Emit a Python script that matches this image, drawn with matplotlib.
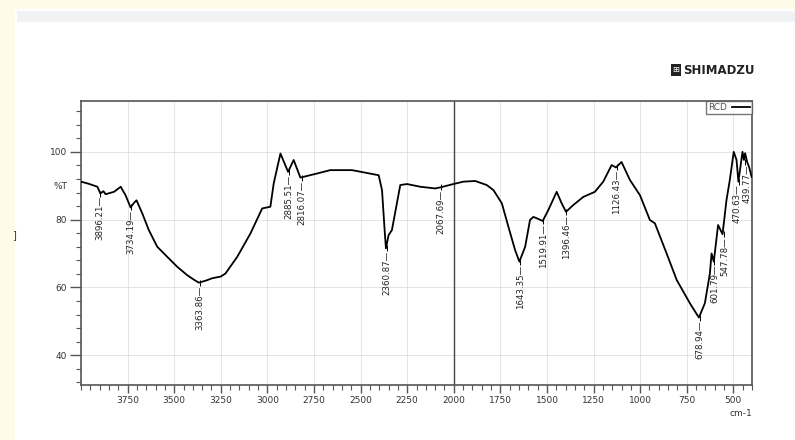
import matplotlib
matplotlib.use("Agg")
import matplotlib.pyplot as plt
from matplotlib.patches import Rectangle
from matplotlib.ticker import MultipleLocator

W, H = 795, 440

# spectrum (wavenumber cm-1, %T)
wavenumber = [4000, 3960, 3912, 3896, 3880, 3868, 3823, 3787, 3761, 3734, 3715, 3702,
              3671, 3636, 3591, 3537, 3484, 3430, 3395, 3368, 3330, 3296, 3250, 3225,
              3162, 3091, 3028, 2984, 2966, 2930, 2889, 2859, 2823, 2734, 2663, 2546,
              2403, 2385, 2371, 2364, 2350, 2332, 2287, 2251, 2180, 2100, 2073, 2002,
              1948, 1885, 1823, 1787, 1742, 1707, 1671, 1648, 1617, 1591, 1573, 1555,
              1523, 1493, 1448, 1421, 1398, 1359, 1305, 1243, 1198, 1153, 1130, 1100,
              1055, 1001, 948, 921, 858, 804, 733, 685, 653, 626, 617, 605,
              582, 558, 537, 519, 498, 483, 473, 451, 443, 437, 426, 416, 402]
transmittance = [91.2, 90.6, 89.7, 87.7, 88.4, 87.5, 88.2, 89.7, 87.2, 83.6, 85.0, 85.7,
                 81.8, 76.9, 72.0, 69.0, 66.1, 63.6, 62.3, 61.4, 62.0, 62.7, 63.2, 64.1,
                 69.0, 75.9, 83.3, 83.8, 90.7, 99.5, 94.1, 97.6, 92.4, 93.6, 94.6, 94.6,
                 93.1, 88.7, 76.9, 71.5, 75.4, 76.9, 90.2, 90.5, 89.7, 89.2, 89.5, 90.5,
                 91.2, 91.4, 90.2, 88.7, 84.8, 77.9, 71.0, 67.6, 72.0, 79.9, 80.8, 80.4,
                 79.6, 82.8, 88.2, 84.8, 82.3, 84.3, 86.7, 88.2, 91.2, 96.1, 95.4, 97.0,
                 91.7, 87.2, 79.9, 78.9, 70.0, 62.2, 55.3, 51.1, 55.3, 64.1, 70.0, 67.6,
                 78.4, 75.7, 85.7, 91.7, 100.0, 97.6, 91.2, 100.0, 97.6, 99.6, 97.0, 95.6, 92.6]

peak_wn = [3896.21, 3734.19, 3363.86, 2885.51, 2816.07, 2360.87, 2067.69, 1643.35,
           1519.91, 1396.46, 1126.43, 678.94, 601.79, 547.78, 470.63, 439.77]
peak_t = [87.7, 83.6, 61.4, 94.1, 92.4, 71.5, 89.5, 67.6,
          79.6, 82.3, 95.4, 51.1, 67.6, 75.7, 91.2, 97.0]

fig = plt.figure(figsize=(W / 100, H / 100), dpi=100, facecolor="#fffbe9")

def fx(px):
    return px / W

def fy(py):
    return 1 - py / H

# page panels behind the chart
fig.add_artist(Rectangle((fx(15), 0), 1 - fx(15), fy(9), transform=fig.transFigure,
                         facecolor="white", edgecolor="none", zorder=0))
fig.add_artist(Rectangle((fx(17), fy(22)), 1 - fx(17), fy(11) - fy(22),
                         transform=fig.transFigure, facecolor="#f1f2f4",
                         edgecolor="none", zorder=0))

ax = fig.add_axes([fx(81), fy(385), fx(752) - fx(81), fy(101) - fy(385)])
ax.set_facecolor("white")

ax.plot(wavenumber, transmittance, color="black", linewidth=1.3, label="RCD", zorder=3)
ax.plot(peak_wn, peak_t, linestyle="none", marker="|", color="black",
        markersize=4, markeredgewidth=0.7, zorder=4)

# the two crowded labels at the right end get pushed apart a little
nudge = {470.63: -1.5, 439.77: 1.5}
for wn, t in zip(peak_wn, peak_t):
    ax.annotate(f"{wn:.2f}\u2014", xy=(wn, t), xytext=(nudge.get(wn, 0), -2),
                textcoords="offset points", rotation=90, ha="center", va="top",
                fontsize=6.2, color="#222222")

ax.axvline(2000, color="#444444", linewidth=1.0, zorder=2)

ax.set_xlim(4000, 400)
ax.set_ylim(31.2, 115)
ax.xaxis.set_minor_locator(MultipleLocator(50))
ax.yaxis.set_minor_locator(MultipleLocator(4))
ax.set_xticks(list(range(500, 4000, 250)))
ax.set_yticks([40, 60, 80, 100])

ax.grid(True, which="major", color="#e0e0e0", linewidth=0.6, zorder=0)
ax.tick_params(axis="both", which="major", direction="out", length=8, width=1,
               color="#555555", labelsize=6.5, labelcolor="#333333", pad=2)
ax.tick_params(axis="x", which="major", length=6)
ax.tick_params(axis="both", which="minor", direction="out", length=3.5, width=0.8,
               color="#555555")
for s in ax.spines.values():
    s.set_color("#555555")
    s.set_linewidth(1.2)

leg = ax.legend(loc="upper right", fontsize=6.5, frameon=True, fancybox=False,
                borderaxespad=0, borderpad=0.2, handlelength=2.0, handletextpad=0.6,
                markerfirst=False)
leg.get_frame().set_edgecolor("#555555")
leg.get_frame().set_linewidth(1.0)
for t in leg.get_texts():
    t.set_color("#555555")

fig.text(fx(60), fy(186), "%T", ha="center", va="center", fontsize=6.5, color="#333333")
fig.text(fx(741), fy(413), "cm-1", ha="center", va="center", fontsize=6.5, color="#333333")
fig.text(fx(14), fy(235), "]", ha="center", va="center", fontsize=7, color="#333333")

# logo
fig.add_artist(Rectangle((fx(671), fy(76)), fx(681) - fx(671), fy(64) - fy(76),
                         transform=fig.transFigure, facecolor="#222222",
                         edgecolor="none"))
fig.text(fx(676), fy(70), "\u229e", ha="center", va="center", fontsize=6,
         color="white")
fig.text(fx(683), fy(70), "SHIMADZU", ha="left", va="center", fontsize=8.5,
         fontweight="bold", color="#222222")

fig.savefig("out.png", dpi=100, facecolor=fig.get_facecolor())
